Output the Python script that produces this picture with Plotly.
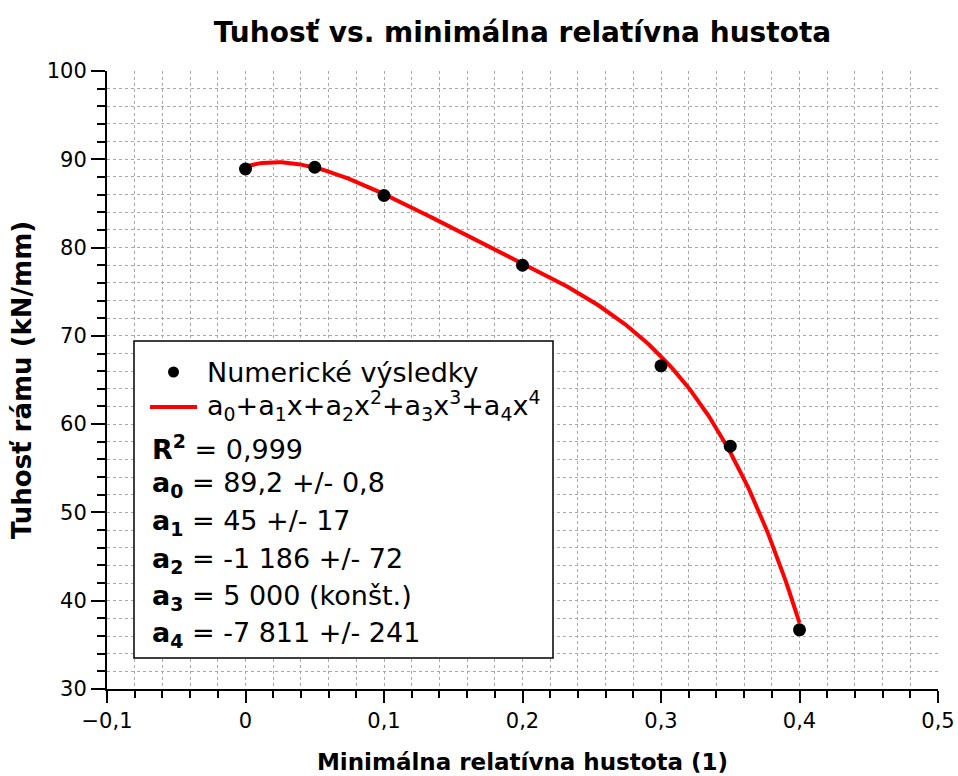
import numpy as np
import plotly.graph_objects as go

# Numerical results: minimal relative density vs. frame stiffness
rel_density = [0.0, 0.05, 0.1, 0.2, 0.3, 0.35, 0.4]
stiffness = [88.9, 89.1, 85.9, 78.0, 66.6, 57.5, 36.7]

# Polynomial fit coefficients a0..a4
fit_coeffs = [89.2, 45.0, -1186.0, 5000.0, -7811.0]
fit_labels = ["0,999", "89,2 +/- 0,8", "45 +/- 17", "-1 186 +/- 72",
              "5 000 (konšt.)", "-7 811 +/- 241"]

x_fit = np.linspace(0.0, 0.4, 200)
y_fit = sum(c * x_fit ** i for i, c in enumerate(fit_coeffs))

FONT = "DejaVu Sans"
W, H = 958, 776
ML, MR, MT, MB = 107, 20, 71, 87
PW, PH = W - ML - MR, H - MT - MB


def px(x):
    return (x - ML) / PW


def py(y):
    return (H - MB - y) / PH


fig = go.Figure()
fig.add_trace(go.Scatter(x=x_fit, y=y_fit, mode="lines",
                         line=dict(color="#ff0000", width=4),
                         showlegend=False, hoverinfo="skip"))
fig.add_trace(go.Scatter(x=rel_density, y=stiffness, mode="markers",
                         marker=dict(color="black", size=13),
                         showlegend=False))

grid = dict(showgrid=True, gridcolor="#a8a8a8", gridwidth=1, griddash="dot")
fig.update_xaxes(range=[-0.1, 0.5], dtick=0.1, tick0=0, ticks="outside",
                 ticklen=12, tickwidth=2, tickcolor="black",
                 showline=True, linecolor="black", linewidth=2,
                 zeroline=False, automargin=False, **grid,
                 minor=dict(dtick=0.02, ticks="outside", ticklen=7,
                            tickwidth=2, tickcolor="black", **grid),
                 tickfont=dict(family=FONT, size=21, color="black"),
                 title=dict(text="<b>Minimálna relatívna hustota (1)</b>",
                            font=dict(family=FONT, size=23, color="black"),
                            standoff=22))
fig.update_yaxes(range=[30, 100], dtick=10, tick0=0, ticks="outside",
                 ticklen=14, tickwidth=2, tickcolor="black",
                 showline=True, linecolor="black", linewidth=2,
                 zeroline=False, automargin=False, **grid,
                 minor=dict(dtick=2, ticks="outside", ticklen=8,
                            tickwidth=2, tickcolor="black", **grid),
                 tickfont=dict(family=FONT, size=21, color="black"),
                 title=dict(text="<b>Tuhosť rámu (kN/mm)</b>",
                            font=dict(family=FONT, size=26, color="black"),
                            standoff=8))

# Legend / fit-statistics box
shapes = [dict(type="rect", xref="paper", yref="paper",
               x0=px(134), x1=px(553), y0=py(658), y1=py(341),
               line=dict(color="black", width=1.5), fillcolor="white",
               layer="above"),
          dict(type="line", xref="paper", yref="paper",
               x0=px(150), x1=px(197), y0=py(407), y1=py(407),
               line=dict(color="#ff0000", width=4), layer="above"),
          dict(type="circle", xref="paper", yref="paper",
               x0=px(168), x1=px(179), y0=py(377.5), y1=py(366.5),
               fillcolor="black", line=dict(color="black", width=0),
               layer="above")]

annotations = []
tf = dict(family=FONT, size=27, color="black")
annotations.append(dict(text="Numerické výsledky", x=px(205), y=py(372),
                        xref="paper", yref="paper", xanchor="left",
                        yanchor="middle", showarrow=False, font=tf))
annotations.append(dict(
    text="a<sub>0</sub>+a<sub>1</sub>x+a<sub>2</sub>x<sup>2</sup>+"
         "a<sub>3</sub>x<sup>3</sup>+a<sub>4</sub>x<sup>4</sup>",
    x=px(205), y=py(405), xref="paper", yref="paper", xanchor="left",
    yanchor="middle", showarrow=False, font=tf))
names = ["<b>R<sup>2</sup></b>"] + [f"<b>a<sub>{i}</sub></b>" for i in range(5)]
rows_y = [447, 485, 522, 560, 597, 634]
for name, val, yy in zip(names, fit_labels, rows_y):
    annotations.append(dict(text=f"{name} = {val}", x=px(150), y=py(yy),
                            xref="paper", yref="paper", xanchor="left",
                            yanchor="middle", showarrow=False, font=tf))

fig.update_layout(
    width=W, height=H,
    margin=dict(l=ML, r=MR, t=MT, b=MB, autoexpand=False),
    paper_bgcolor="white", plot_bgcolor="white",
    separators=", ",
    title=dict(text="<b>Tuhosť vs. minimálna relatívna hustota</b>",
               xref="paper", x=0.5, xanchor="center",
               y=1 - 32 / H, yanchor="middle",
               font=dict(family=FONT, size=28, color="black")),
    shapes=shapes, annotations=annotations, showlegend=False,
)

fig.write_html("out.html")
